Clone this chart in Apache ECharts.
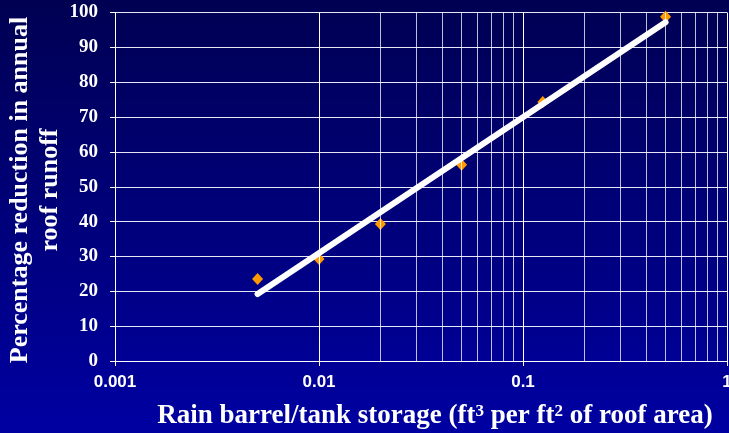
<!DOCTYPE html>
<html>
<head>
<meta charset="utf-8">
<script src="https://cdn.jsdelivr.net/npm/echarts@6/dist/echarts.min.js"></script>
<style>
  html, body { margin: 0; padding: 0; }
  #chart { width: 729px; height: 433px; }
</style>
</head>
<body>
<div id="chart"></div>
<script>
// measured points (storage ft3/ft2 vs % reduction)
const storage = [0.005, 0.01, 0.02, 0.05, 0.125, 0.5];
const reduction = [23.5, 29.3, 39.3, 56.3, 74.3, 98.8];

// fitted trend line, end points
const trendX = [0.005, 0.5];
const trendY = [19.2, 97.2];

// minor log grid lines (2..9 per decade)
const minorTicks = [
  0.002, 0.003, 0.004, 0.005, 0.006, 0.007, 0.008, 0.009,
  0.02, 0.03, 0.04, 0.05, 0.06, 0.07, 0.08, 0.09,
  0.2, 0.3, 0.4, 0.5, 0.6, 0.7, 0.8, 0.9
];

const yTitle = 'Percentage reduction in annual\nroof runoff';

const serif = '"Liberation Serif", "Times New Roman", serif';
const sans = '"Liberation Sans", Arial, sans-serif';

const chart = echarts.init(document.getElementById('chart'));

const option = {
  backgroundColor: {
    type: 'linear', x: 0, y: 0, x2: 0, y2: 1,
    colorStops: [
      { offset: 0, color: '#000052' },
      { offset: 1, color: '#0000a2' }
    ]
  },
  animation: false,
  grid: {
    left: 115,
    right: 2,
    top: 12.5,
    bottom: 72,
    outerBoundsMode: 'none'
  },
  // y title drawn as a rotated text block so it sits close to the labels
  graphic: [
    {
      type: 'text',
      x: 35,
      y: 190,
      rotation: Math.PI / 2,
      style: {
        text: yTitle,
        fill: '#fff',
        font: 'bold 26px ' + serif,
        lineHeight: 30,
        align: 'center',
        verticalAlign: 'middle'
      }
    }
  ],
  xAxis: {
    type: 'log',
    logBase: 10,
    min: 0.001,
    max: 1,
    name: 'Rain barrel/tank storage (ft{sup|3} per ft{sup|2} of roof area)',
    nameLocation: 'middle',
    nameGap: 42,
    nameTextStyle: {
      color: '#fff',
      fontFamily: serif,
      fontWeight: 'bold',
      fontSize: 27,
      padding: [0, 0, 0, 28],
      rich: {
        sup: {
          color: '#fff',
          fontFamily: serif,
          fontWeight: 'bold',
          fontSize: 17,
          verticalAlign: 'top',
          padding: [0, 0, 10, 0]
        }
      }
    },
    axisLine: { show: true, lineStyle: { color: '#fff', width: 1 } },
    axisTick: { show: true, length: 5, lineStyle: { color: '#fff' } },
    axisLabel: {
      color: '#fff',
      fontFamily: sans,
      fontWeight: 'bold',
      fontSize: 17,
      margin: 13,
      formatter: v => String(v)
    },
    splitLine: { show: true, lineStyle: { color: '#fff', width: 1 } }
  },
  yAxis: {
    type: 'value',
    min: 0,
    max: 100,
    interval: 10,
    axisLine: { show: true, lineStyle: { color: '#fff', width: 1 } },
    axisTick: { show: true, length: 5, lineStyle: { color: '#fff' } },
    axisLabel: {
      color: '#fff',
      fontFamily: serif,
      fontWeight: 'bold',
      fontSize: 19,
      margin: 17
    },
    splitLine: { show: true, lineStyle: { color: '#e8e8f4', width: 1 } }
  },
  series: [
    {
      type: 'scatter',
      symbol: 'diamond',
      symbolSize: [11, 12],
      itemStyle: { color: '#ff9900', opacity: 1 },
      data: storage.map((x, i) => [x, reduction[i]]),
      markLine: {
        silent: true,
        symbol: 'none',
        label: { show: false },
        lineStyle: { color: 'rgba(255,255,255,0.75)', width: 1, type: 'solid' },
        data: minorTicks.map(v => ({ xAxis: v }))
      },
      z: 3
    },
    {
      type: 'line',
      symbol: 'none',
      lineStyle: { color: '#fff', width: 6, cap: 'round' },
      data: trendX.map((x, i) => [x, trendY[i]]),
      z: 4
    }
  ]
};

chart.setOption(option);
</script>
</body>
</html>
